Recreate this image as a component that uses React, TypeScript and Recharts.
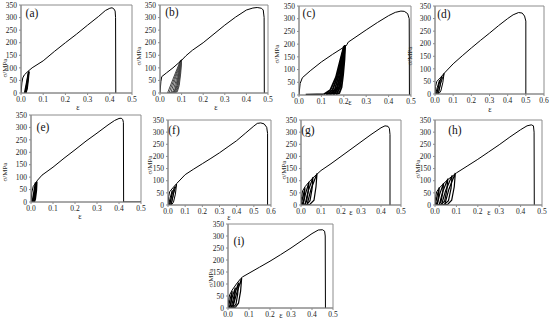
import React from 'react';
import { LineChart, Line, XAxis, YAxis, ReferenceArea } from 'recharts';

type P = [number, number];

const Y_TICKS = [0, 50, 100, 150, 200, 250, 300, 350];
const X_TICKS_05 = [0, 0.1, 0.2, 0.3, 0.4, 0.5];
const X_TICKS_06 = [0, 0.1, 0.2, 0.3, 0.4, 0.5, 0.6];
const PANEL_LABELS = ['(a)', '(b)', '(c)', '(d)', '(e)', '(f)', '(g)', '(h)', '(i)'];
const Y_LABEL = 'σ/MPa';
const X_LABEL = 'ε';

// ---------- (a) ----------
const mainA: P[] = [[0,0],[0.004,40],[0.008,60],[0.015,72],[0.03,85],[0.05,100],[0.1,128],[0.15,165],[0.2,200],[0.25,234],[0.3,270],[0.35,305],[0.38,328],[0.4,337],[0.41,339],[0.418,335],[0.424,326],[0.426,300],[0.427,0]];
const loopsA: P[][] = [
  [[0.016,0],[0.025,40],[0.034,84],[0.030,60],[0.024,20],[0.019,2],[0.016,0]],
  [[0.019,0],[0.027,40],[0.035,85],[0.031,55],[0.026,18],[0.021,2],[0.019,0]],
  [[0.021,0],[0.029,42],[0.036,86],[0.033,55],[0.028,18],[0.023,2],[0.021,0]],
];

// ---------- (b) ----------
const mainB: P[] = [[0,0],[0.004,45],[0.008,65],[0.03,80],[0.06,100],[0.1,130],[0.12,148],[0.15,170],[0.2,200],[0.25,235],[0.3,270],[0.35,302],[0.4,330],[0.43,338],[0.45,340],[0.47,337],[0.478,330],[0.482,300],[0.483,0]];
const loopsB: P[][] = [
  [[0.035,0],[0.06,55],[0.095,130],[0.088,80],[0.078,30],[0.065,5],[0.045,1],[0.035,0]],
  [[0.042,0],[0.065,55],[0.097,130],[0.09,80],[0.08,30],[0.068,5],[0.05,1],[0.042,0]],
  [[0.05,0],[0.07,55],[0.099,131],[0.092,80],[0.083,30],[0.072,5],[0.056,1],[0.05,0]],
  [[0.058,0],[0.076,55],[0.1,132],[0.094,80],[0.086,30],[0.076,5],[0.062,1],[0.058,0]],
  [[0.065,0],[0.082,60],[0.1,132],[0.096,80],[0.089,30],[0.08,5],[0.07,1],[0.065,0]],
];

// ---------- (c) ----------
const mainC: P[] = [[0,0],[0.005,45],[0.015,68],[0.05,95],[0.1,130],[0.15,160],[0.2,188],[0.21,193],[0.215,200],[0.22,208],[0.25,226],[0.3,256],[0.35,285],[0.4,312],[0.43,325],[0.455,330],[0.47,329],[0.485,320],[0.492,300],[0.493,0]];
const loopsC: P[][] = [
  [[0.03,1],[0.08,2],[0.11,2]],
  [[0.11,2],[0.14,20],[0.165,70],[0.185,140],[0.2,190],[0.195,140],[0.185,80],[0.17,30],[0.15,8],[0.12,3]],
  [[0.125,2],[0.15,20],[0.172,75],[0.188,140],[0.202,192],[0.198,140],[0.19,80],[0.178,30],[0.16,8],[0.135,3]],
  [[0.14,2],[0.16,22],[0.178,78],[0.192,145],[0.204,194],[0.2,140],[0.193,80],[0.183,30],[0.17,8],[0.15,3]],
  [[0.155,2],[0.17,25],[0.185,80],[0.196,145],[0.206,196],[0.203,140],[0.197,80],[0.19,30],[0.18,8],[0.165,3]],
];

// ---------- (d) ----------
const mainD: P[] = [[0,0],[0.003,30],[0.01,50],[0.03,65],[0.05,82],[0.1,120],[0.15,152],[0.2,183],[0.25,213],[0.3,242],[0.35,272],[0.4,300],[0.43,315],[0.46,324],[0.48,322],[0.493,310],[0.5,290],[0.5,0]];
const loopsD: P[][] = [
  [[0.004,0],[0.012,25],[0.025,55],[0.02,30],[0.012,8],[0.006,1],[0.004,0]],
  [[0.01,0],[0.02,35],[0.036,70],[0.03,38],[0.02,10],[0.013,1],[0.01,0]],
  [[0.018,0],[0.03,40],[0.05,82],[0.043,45],[0.032,12],[0.022,2],[0.018,0]],
];

// ---------- (e) ----------
const mainE: P[] = [[0,0],[0.004,40],[0.01,62],[0.02,75],[0.03,88],[0.05,108],[0.1,140],[0.15,176],[0.2,210],[0.25,245],[0.3,277],[0.35,310],[0.38,328],[0.4,336],[0.41,337],[0.417,332],[0.42,320],[0.421,0],[0.5,0]];
const loopsE: P[][] = [
  [[0.005,0],[0.012,35],[0.02,78],[0.017,45],[0.012,12],[0.008,1],[0.005,0]],
  [[0.009,0],[0.016,38],[0.024,80],[0.021,45],[0.016,12],[0.012,1],[0.009,0]],
  [[0.013,0],[0.02,40],[0.027,82],[0.025,45],[0.02,12],[0.016,1],[0.013,0]],
];

// ---------- (f) ----------
const mainF: P[] = [[0,0],[0.004,35],[0.01,55],[0.03,72],[0.05,88],[0.1,125],[0.15,148],[0.2,170],[0.25,192],[0.3,215],[0.35,240],[0.4,265],[0.45,295],[0.5,325],[0.52,336],[0.54,338],[0.56,334],[0.575,320],[0.58,295],[0.58,0]];
const loopsF: P[][] = [
  [[0.004,0],[0.012,28],[0.025,60],[0.02,32],[0.012,8],[0.006,1],[0.004,0]],
  [[0.01,0],[0.02,35],[0.038,75],[0.031,40],[0.021,10],[0.013,1],[0.01,0]],
  [[0.018,0],[0.03,42],[0.05,86],[0.043,45],[0.032,12],[0.022,2],[0.018,0]],
];

// ---------- (g) ----------
const mainG: P[] = [[0,0],[0.003,35],[0.008,58],[0.02,75],[0.04,95],[0.06,112],[0.08,127],[0.1,142],[0.15,170],[0.2,200],[0.25,230],[0.3,260],[0.35,290],[0.4,318],[0.42,326],[0.435,324],[0.442,315],[0.445,290],[0.445,0]];
const loopsG: P[][] = [
  [[0.002,0],[0.008,30],[0.02,72],[0.017,40],[0.012,12],[0.006,2],[0.002,0]],
  [[0.01,0],[0.022,45],[0.04,95],[0.036,55],[0.028,15],[0.018,2],[0.01,0]],
  [[0.02,0],[0.035,55],[0.06,115],[0.055,65],[0.045,18],[0.03,3],[0.02,0]],
  [[0.03,0],[0.05,65],[0.08,130],[0.075,75],[0.065,20],[0.045,3],[0.03,0]],
];

// ---------- (h) ----------
const mainH: P[] = [[0,0],[0.003,35],[0.008,55],[0.02,70],[0.04,88],[0.06,105],[0.08,118],[0.1,132],[0.15,160],[0.2,188],[0.25,218],[0.3,248],[0.35,280],[0.4,310],[0.43,326],[0.45,330],[0.46,326],[0.463,300],[0.464,0]];
const loopsH: P[][] = [
  [[0.002,0],[0.008,30],[0.02,72],[0.017,40],[0.012,12],[0.006,2],[0.002,0]],
  [[0.01,0],[0.022,45],[0.04,90],[0.036,50],[0.028,14],[0.018,2],[0.01,0]],
  [[0.02,0],[0.035,52],[0.06,108],[0.055,60],[0.045,16],[0.03,3],[0.02,0]],
  [[0.03,0],[0.05,60],[0.08,122],[0.075,68],[0.063,18],[0.045,3],[0.03,0]],
  [[0.045,0],[0.065,65],[0.095,132],[0.09,75],[0.078,20],[0.06,3],[0.045,0]],
];

// ---------- (i) ----------
const mainI: P[] = [[0,0],[0.003,35],[0.008,55],[0.02,75],[0.04,100],[0.06,122],[0.07,130],[0.1,145],[0.15,170],[0.2,195],[0.25,222],[0.3,250],[0.35,280],[0.4,310],[0.43,325],[0.45,326],[0.46,320],[0.463,300],[0.464,0]];
const loopsI: P[][] = [
  [[0.002,0],[0.008,30],[0.02,70],[0.017,38],[0.012,12],[0.006,2],[0.002,0]],
  [[0.008,0],[0.018,40],[0.035,85],[0.032,48],[0.025,14],[0.015,2],[0.008,0]],
  [[0.015,0],[0.028,48],[0.05,105],[0.046,58],[0.038,16],[0.025,3],[0.015,0]],
  [[0.022,0],[0.04,58],[0.065,125],[0.06,70],[0.05,20],[0.035,3],[0.022,0]],
];

const toPts = (arr: P[]) => arr.map(([x, y]) => ({ x, y }));

const FONT = '"Liberation Serif", "DejaVu Serif", serif';
const AXIS = '#8c8c8c';

interface PanelCfg {
  x0: number; x1: number; y0: number; y1: number;
  xMax: number; xTicks: number[];
  main: P[]; loops: P[][];
  loopColor: string; loopWidth: number;
  label: string; labelX: number; labelY: number;
  yLabX: number; yLabY: number;
  epsX: number; epsY: number;
}

const panels: PanelCfg[] = [
  { x0: 21, x1: 132, y0: 5, y1: 93, xMax: 0.5, xTicks: X_TICKS_05, main: mainA, loops: loopsA, loopColor: '#000', loopWidth: 1.4, label: PANEL_LABELS[0], labelX: 32, labelY: 14, yLabX: 5, yLabY: 68, epsX: 78, epsY: 108 },
  { x0: 160, x1: 268, y0: 5, y1: 93, xMax: 0.5, xTicks: X_TICKS_05, main: mainB, loops: loopsB, loopColor: '#444', loopWidth: 1, label: PANEL_LABELS[1], labelX: 172, labelY: 13, yLabX: 139, yLabY: 56, epsX: 216, epsY: 108 },
  { x0: 299, x1: 411, y0: 6, y1: 95, xMax: 0.5, xTicks: X_TICKS_05, main: mainC, loops: loopsC, loopColor: '#000', loopWidth: 1.8, label: PANEL_LABELS[2], labelX: 309, labelY: 14, yLabX: 277, yLabY: 54, epsX: 350, epsY: 103 },
  { x0: 435, x1: 544, y0: 6, y1: 94, xMax: 0.6, xTicks: X_TICKS_06, main: mainD, loops: loopsD, loopColor: '#000', loopWidth: 1, label: PANEL_LABELS[3], labelX: 444, labelY: 15, yLabX: 410, yLabY: 56, epsX: 490, epsY: 110 },
  { x0: 31, x1: 141, y0: 115, y1: 202, xMax: 0.5, xTicks: X_TICKS_05, main: mainE, loops: loopsE, loopColor: '#000', loopWidth: 1.3, label: PANEL_LABELS[4], labelX: 43, labelY: 128, yLabX: 5, yLabY: 172, epsX: 80, epsY: 217 },
  { x0: 168, x1: 271, y0: 120, y1: 205, xMax: 0.6, xTicks: X_TICKS_06, main: mainF, loops: loopsF, loopColor: '#000', loopWidth: 1, label: PANEL_LABELS[5], labelX: 174, labelY: 131, yLabX: 150, yLabY: 165, epsX: 229, epsY: 218 },
  { x0: 301, x1: 401, y0: 120, y1: 205, xMax: 0.5, xTicks: X_TICKS_05, main: mainG, loops: loopsG, loopColor: '#000', loopWidth: 1.2, label: PANEL_LABELS[6], labelX: 308, labelY: 131, yLabX: 284, yLabY: 170, epsX: 351, epsY: 213 },
  { x0: 435, x1: 542, y0: 120, y1: 205, xMax: 0.5, xTicks: X_TICKS_05, main: mainH, loops: loopsH, loopColor: '#000', loopWidth: 1.2, label: PANEL_LABELS[7], labelX: 455, labelY: 131, yLabX: 418, yLabY: 169, epsX: 489, epsY: 213 },
  { x0: 228, x1: 333, y0: 224, y1: 308, xMax: 0.5, xTicks: X_TICKS_05, main: mainI, loops: loopsI, loopColor: '#000', loopWidth: 1.2, label: PANEL_LABELS[8], labelX: 239, labelY: 242, yLabX: 211, yLabY: 278, epsX: 281, epsY: 316 },
];

const ML = 30, MT = 5, MR = 8, MB = 20;

function Panel({ p }: { p: PanelCfg }) {
  const w = p.x1 - p.x0;
  const h = p.y1 - p.y0;
  const tickStyle = { fontSize: 7.5, fill: '#222', fontFamily: FONT };
  return (
    <>
      <div style={{ position: 'absolute', left: p.x0 - ML, top: p.y0 - MT, fontFamily: FONT }}>
        <LineChart width={w + ML + MR} height={h + MT + MB} margin={{ top: MT, right: MR, left: 0, bottom: 0 }} style={{ fontFamily: FONT }}>
          <XAxis
            type="number"
            dataKey="x"
            domain={[0, p.xMax]}
            ticks={p.xTicks}
            interval={0}
            allowDataOverflow
            height={MB}
            tickSize={2}
            tickMargin={2}
            tickFormatter={(v: number) => v.toFixed(1)}
            tick={tickStyle}
            stroke={AXIS}
          />
          <YAxis
            type="number"
            dataKey="y"
            domain={[0, 350]}
            ticks={Y_TICKS}
            interval={0}
            allowDataOverflow
            width={ML}
            tickSize={2}
            tickMargin={2}
            tick={tickStyle}
            stroke={AXIS}
          />
          <ReferenceArea x1={0} x2={p.xMax} y1={0} y2={350} fill="none" stroke={AXIS} strokeWidth={1} />
          {p.loops.map((l, i) => (
            <Line
              key={'l' + i}
              data={toPts(l)}
              dataKey="y"
              type="linear"
              dot={false}
              activeDot={false}
              stroke={p.loopColor}
              strokeWidth={p.loopWidth}
              isAnimationActive={false}
            />
          ))}
          <Line
            data={toPts(p.main)}
            dataKey="y"
            type="linear"
            dot={false}
            activeDot={false}
            stroke="#000"
            strokeWidth={1}
            isAnimationActive={false}
          />
        </LineChart>
      </div>
      <div style={{ position: 'absolute', left: p.labelX, top: p.labelY, transform: 'translate(-50%,-50%)', fontFamily: FONT, fontSize: 11.5, color: '#111', whiteSpace: 'nowrap', lineHeight: 1 }}>{p.label}</div>
      <div style={{ position: 'absolute', left: p.yLabX, top: p.yLabY, transform: 'translate(-50%,-50%) rotate(-90deg)', fontFamily: FONT, fontSize: 7, color: '#222', whiteSpace: 'nowrap', lineHeight: 1 }}>{Y_LABEL}</div>
      <div style={{ position: 'absolute', left: p.epsX, top: p.epsY, transform: 'translate(-50%,-50%)', fontFamily: FONT, fontSize: 8, color: '#222', whiteSpace: 'nowrap', lineHeight: 1 }}>{X_LABEL}</div>
    </>
  );
}

export default function App() {
  return (
    <div style={{ position: 'absolute', left: 0, top: 0, width: 550, height: 322, background: '#fff', overflow: 'hidden', fontFamily: FONT }}>
      <style>{`.recharts-text, .recharts-cartesian-axis-tick-value { font-family: "Liberation Serif", "DejaVu Serif", serif !important; }`}</style>
      {panels.map((p, i) => (
        <Panel key={i} p={p} />
      ))}
    </div>
  );
}
